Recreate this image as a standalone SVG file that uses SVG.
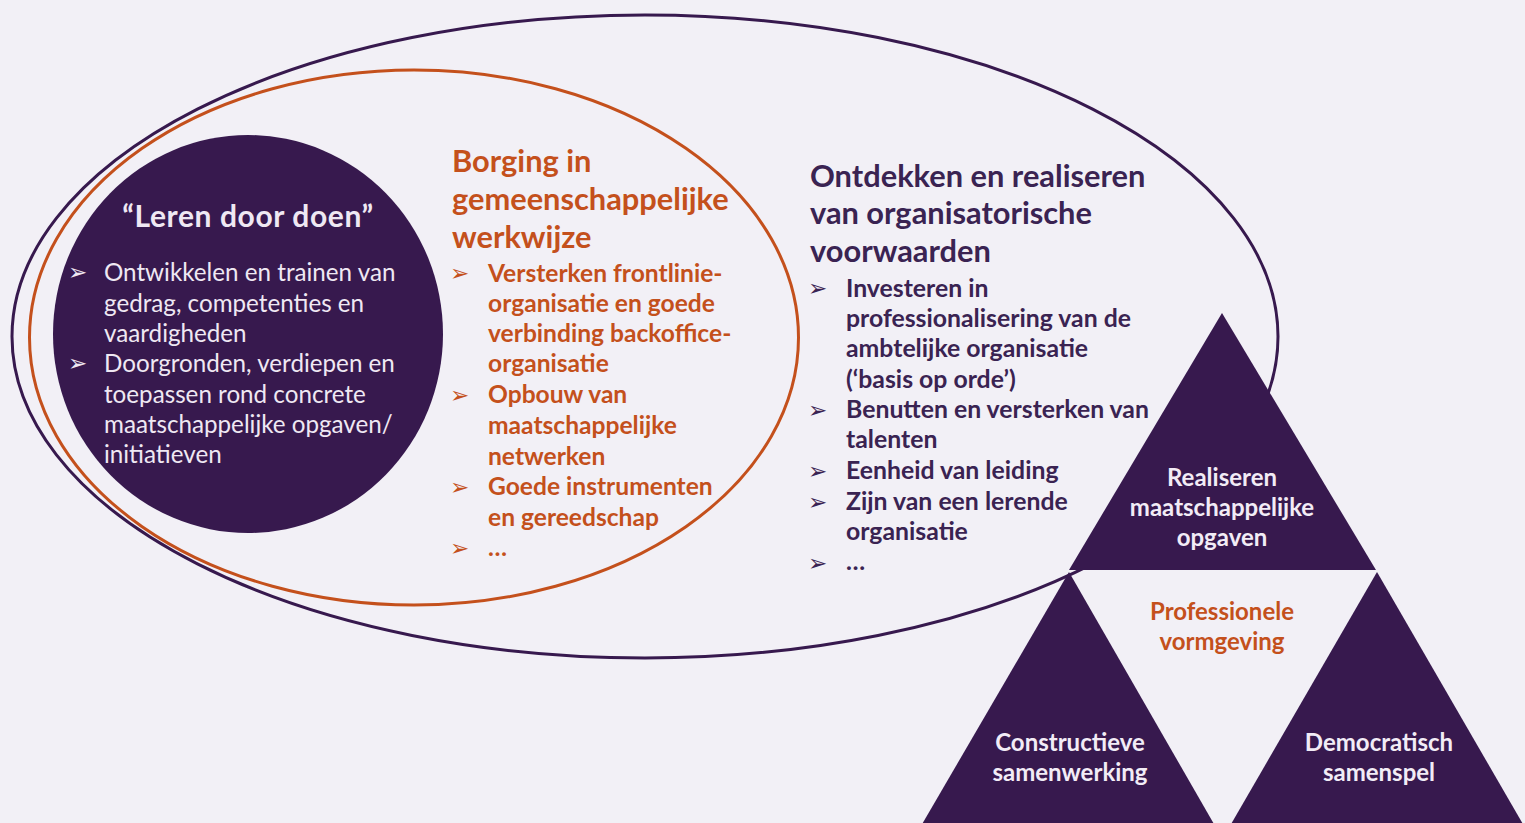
<svg xmlns="http://www.w3.org/2000/svg" width="1525" height="823" viewBox="0 0 1525 823">
<style>
.bg{fill:#f2f0f6}
.pur{fill:#37194e}
.t{font-family:Lato,"Open Sans","Liberation Sans",sans-serif}
.wt{fill:#efe8f3;font-size:24.2px}
.ot{fill:#c4501c;font-size:24.6px;font-weight:bold}
.pt{fill:#3a2352;font-size:24.8px;font-weight:bold}
.bul{font-family:"DejaVu Sans",sans-serif;font-size:23px}
.h{font-size:30.8px;font-weight:bold}
.tri{fill:#f2ecf6;font-size:24px;font-weight:bold;text-anchor:middle}
</style>
<rect class="bg" x="0" y="0" width="1525" height="823"/>
<g id="outer-ellipse">
<ellipse cx="645" cy="336.5" rx="633" ry="321.5" fill="none" stroke="#37194e" stroke-width="3"/>
</g>
<g id="orange-ellipse">
<ellipse cx="414" cy="337.5" rx="384.5" ry="267.5" fill="none" stroke="#c4501c" stroke-width="3"/>
</g>
<g id="circle-leren">
<ellipse class="pur" cx="248" cy="334" rx="195" ry="199"/>
<text class="t" x="248" y="227" fill="#efe8f3" font-size="30" letter-spacing="0.6" font-weight="bold" text-anchor="middle">“Leren door doen”</text>
<g class="bul" fill="#efe8f3"><text x="68" y="280">➢</text><text x="68" y="371">➢</text></g>
<text class="t wt">
<tspan x="104" y="281">Ontwikkelen en trainen van</tspan>
<tspan x="104" y="311.5">gedrag, competenties  en</tspan>
<tspan x="104" y="342">vaardigheden</tspan>
<tspan x="104" y="372">Doorgronden, verdiepen en</tspan>
<tspan x="104" y="402.5">toepassen rond concrete</tspan>
<tspan x="104" y="433">maatschappelijke opgaven/</tspan>
<tspan x="104" y="463">initiatieven</tspan>
</text>
</g>
<g id="borging">
<text class="t h" fill="#c4501c">
<tspan x="452" y="172">Borging in</tspan>
<tspan x="452" y="210">gemeenschappelijke</tspan>
<tspan x="452" y="248">werkwijze</tspan>
</text>
<g class="bul" fill="#c4501c"><text x="450" y="281">➢</text><text x="450" y="403">➢</text><text x="450" y="495">➢</text><text x="450" y="556">➢</text></g>
<text class="t ot">
<tspan x="488" y="282">Versterken frontlinie-</tspan>
<tspan x="488" y="312">organisatie en goede</tspan>
<tspan x="488" y="342">verbinding backoffice-</tspan>
<tspan x="488" y="372">organisatie</tspan>
<tspan x="488" y="403">Opbouw van</tspan>
<tspan x="488" y="434">maatschappelijke</tspan>
<tspan x="488" y="465">netwerken</tspan>
<tspan x="488" y="495">Goede instrumenten</tspan>
<tspan x="488" y="526">en gereedschap</tspan>
<tspan x="488" y="556">…</tspan>
</text>
</g>
<g id="ontdekken">
<text class="t h" fill="#3a2352">
<tspan x="810" y="187">Ontdekken en realiseren</tspan>
<tspan x="810" y="224">van organisatorische</tspan>
<tspan x="810" y="262">voorwaarden</tspan>
</text>
<g class="bul" fill="#3a2352"><text x="808" y="296">➢</text><text x="808" y="418">➢</text><text x="808" y="479">➢</text><text x="808" y="510">➢</text><text x="808" y="571">➢</text></g>
<text class="t pt">
<tspan x="846" y="297">Investeren in</tspan>
<tspan x="846" y="327">professionalisering van de</tspan>
<tspan x="846" y="357">ambtelijke organisatie</tspan>
<tspan x="846" y="388">(‘basis op orde’)</tspan>
<tspan x="846" y="418">Benutten en versterken van</tspan>
<tspan x="846" y="448">talenten</tspan>
<tspan x="846" y="479">Eenheid van leiding</tspan>
<tspan x="846" y="510">Zijn van een lerende</tspan>
<tspan x="846" y="540">organisatie</tspan>
<tspan x="846" y="570">…</tspan>
</text>
</g>
<g id="tri-top">
<polygon class="pur" points="1222,313 1069,570 1376,570"/>
<text class="t tri"><tspan x="1222" y="486">Realiseren</tspan><tspan x="1222" y="516">maatschappelijke</tspan><tspan x="1222" y="546">opgaven</tspan></text>
</g>
<g id="tri-left">
<polygon class="pur" points="1069,572 914,838 1222,838"/>
<text class="t tri"><tspan x="1070" y="751">Constructieve</tspan><tspan x="1070" y="781">samenwerking</tspan></text>
</g>
<g id="tri-right">
<polygon class="pur" points="1377,572 1223,838 1531,838"/>
<text class="t tri"><tspan x="1379" y="751">Democratisch</tspan><tspan x="1379" y="781">samenspel</tspan></text>
</g>
<g id="center-label">
<text class="t" fill="#c4501c" font-size="24" font-weight="bold" text-anchor="middle"><tspan x="1222" y="620">Professionele</tspan><tspan x="1222" y="650">vormgeving</tspan></text>
</g>
<g id="connectors"/>
</svg>
